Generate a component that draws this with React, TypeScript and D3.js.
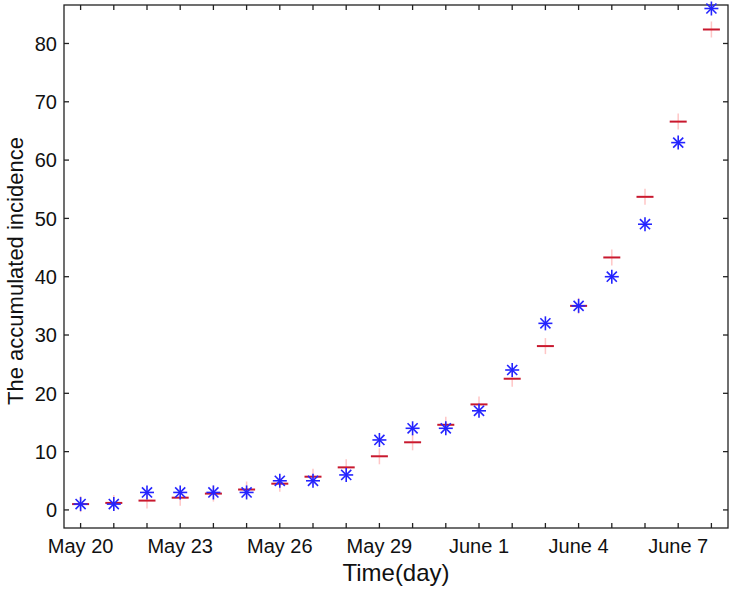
import React, { useEffect, useRef } from "react";
import * as d3 from "d3";

const days = [
  "May 20", "May 21", "May 22", "May 23", "May 24", "May 25", "May 26", "May 27", "May 28", "May 29",
  "May 30", "May 31", "June 1", "June 2", "June 3", "June 4", "June 5", "June 6", "June 7", "June 8",
];
const observed = [1, 1, 3, 3, 3, 3, 5, 5, 6, 12, 14, 14, 17, 24, 32, 35, 40, 49, 63, 86];
const fitted = [1, 1.2, 1.6, 2.1, 2.8, 3.5, 4.5, 5.7, 7.3, 9.2, 11.6, 14.6, 18.1, 22.5, 28.1, 35, 43.3, 53.7, 66.6, 82.4];
const yTicks = [0, 10, 20, 30, 40, 50, 60, 70, 80];
const labelEvery = 3;

export default function App() {
  const ref = useRef<SVGSVGElement | null>(null);

  useEffect(() => {
    const svg = d3.select(ref.current);
    svg.selectAll("*").remove();

    const W = 733, H = 590;
    const margin = { top: 5, right: 5, bottom: 62, left: 64 };
    const width = W - margin.left - margin.right;
    const height = H - margin.top - margin.bottom;
    const font = "Liberation Sans, Arial, sans-serif";

    svg.attr("width", W).attr("height", H);
    const g = svg.append("g").attr("transform", `translate(${margin.left},${margin.top})`);

    const x = d3.scaleLinear().domain([-0.5, days.length - 0.5]).range([0, width]);
    const y = d3.scaleLinear().domain([-3.1, 86.6]).range([height, 0]);
    const idx = d3.range(days.length);

    // frame
    g.append("rect").attr("width", width).attr("height", height)
      .attr("fill", "none").attr("stroke", "#222").attr("stroke-width", 1.3);

    const tl = 5;
    // x ticks (inward, top and bottom)
    const xt = g.append("g").attr("stroke", "#222").attr("stroke-width", 1.3);
    idx.forEach((i) => {
      xt.append("line").attr("x1", x(i)).attr("x2", x(i)).attr("y1", height).attr("y2", height - tl);
      xt.append("line").attr("x1", x(i)).attr("x2", x(i)).attr("y1", 0).attr("y2", tl);
    });
    g.append("g").selectAll("text").data(idx.filter((i) => i % labelEvery === 0)).join("text")
      .attr("x", (i) => x(i)).attr("y", height + 25)
      .attr("text-anchor", "middle").attr("font-family", font).attr("font-size", 20).attr("fill", "#111")
      .text((i) => days[i]);

    // y ticks (inward, left and right)
    const yt = g.append("g").attr("stroke", "#222").attr("stroke-width", 1.3);
    yTicks.forEach((v) => {
      yt.append("line").attr("x1", 0).attr("x2", tl).attr("y1", y(v)).attr("y2", y(v));
      yt.append("line").attr("x1", width).attr("x2", width - tl).attr("y1", y(v)).attr("y2", y(v));
    });
    g.append("g").selectAll("text").data(yTicks).join("text")
      .attr("x", -7).attr("y", (v) => y(v)).attr("dy", "0.36em")
      .attr("text-anchor", "end").attr("font-family", font).attr("font-size", 20).attr("fill", "#111")
      .text((v) => String(v));

    // fitted markers (+)
    const fm = g.append("g");
    fitted.forEach((v, i) => {
      fm.append("line").attr("x1", x(i) - 8.5).attr("x2", x(i) + 8.5).attr("y1", y(v)).attr("y2", y(v))
        .attr("stroke", "#c8182e").attr("stroke-width", 2);
      fm.append("line").attr("x1", x(i)).attr("x2", x(i)).attr("y1", y(v) - 8).attr("y2", y(v) + 8)
        .attr("stroke", "#ff2020").attr("stroke-width", 1.5).attr("opacity", 0.25);
    });

    // observed markers (*)
    const om = g.append("g").attr("stroke", "#2424ff").attr("stroke-width", 1.6);
    const r = 7, d = r * 0.72;
    observed.forEach((v, i) => {
      const cx = x(i), cy = y(v);
      om.append("line").attr("x1", cx - r).attr("x2", cx + r).attr("y1", cy).attr("y2", cy);
      om.append("line").attr("x1", cx).attr("x2", cx).attr("y1", cy - r).attr("y2", cy + r);
      om.append("line").attr("x1", cx - d).attr("x2", cx + d).attr("y1", cy - d).attr("y2", cy + d);
      om.append("line").attr("x1", cx - d).attr("x2", cx + d).attr("y1", cy + d).attr("y2", cy - d);
    });

    // axis titles
    svg.append("text").attr("x", margin.left + width / 2).attr("y", 581)
      .attr("text-anchor", "middle").attr("font-family", font).attr("font-size", 24).attr("fill", "#111")
      .text("Time(day)");
    svg.append("text").attr("transform", `translate(23,271) rotate(-90)`)
      .attr("text-anchor", "middle").attr("font-family", font).attr("font-size", 22).attr("fill", "#111")
      .text("The accumulated incidence");
  }, []);

  return (
    <svg ref={ref} style={{ position: "absolute", left: 0, top: 0, background: "#fff" }}></svg>
  );
}
